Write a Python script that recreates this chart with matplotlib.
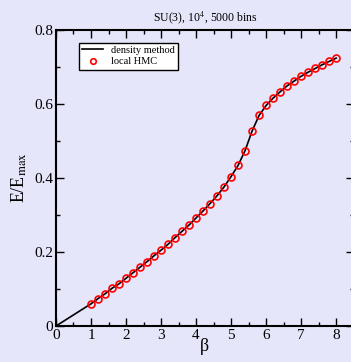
import matplotlib
matplotlib.use("Agg")
import matplotlib.pyplot as plt
from matplotlib.ticker import MultipleLocator

# local HMC measurements of E/E_max
beta_hmc = [1.0, 1.2, 1.4, 1.6, 1.8, 2.0, 2.2, 2.4, 2.6, 2.8,
            3.0, 3.2, 3.4, 3.6, 3.8, 4.0, 4.2, 4.4, 4.6, 4.8,
            5.0, 5.2, 5.4, 5.6, 5.8, 6.0, 6.2, 6.4, 6.6, 6.8,
            7.0, 7.2, 7.4, 7.6, 7.8, 8.0]
e_hmc = [0.060, 0.074, 0.087, 0.102, 0.114, 0.129, 0.144, 0.159, 0.174, 0.190,
         0.205, 0.221, 0.239, 0.256, 0.273, 0.292, 0.311, 0.331, 0.352, 0.376,
         0.404, 0.434, 0.474, 0.527, 0.569, 0.596, 0.616, 0.633, 0.649, 0.662,
         0.675, 0.686, 0.696, 0.706, 0.715, 0.724]

# density method curve
beta_dens = [0.0] + beta_hmc
e_dens = [0.0] + e_hmc

bg = "#e6e6fa"
plt.rcParams["font.family"] = ["Liberation Serif", "DejaVu Serif"]
plt.rcParams["mathtext.fontset"] = "stix"

fig = plt.figure(figsize=(3.51, 3.62), dpi=100, facecolor=bg)
ax = fig.add_axes([0.1595, 0.0994, 0.848, 0.8177], facecolor=bg)

ax.plot(beta_dens, e_dens, color="black", lw=1.2, label="density method", zorder=2)
ax.plot(beta_hmc, e_hmc, ls="none", marker="o", ms=5, mfc="none", mec="red",
        mew=1.2, label="local HMC", zorder=3)

ax.set_xlim(0, 8.5)
ax.set_ylim(0, 0.8)
ax.xaxis.set_major_locator(MultipleLocator(1))
ax.xaxis.set_minor_locator(MultipleLocator(0.5))
ax.yaxis.set_major_locator(MultipleLocator(0.2))
ax.yaxis.set_minor_locator(MultipleLocator(0.1))
ax.tick_params(which="both", direction="in", top=True, right=True, labelsize=11,
               width=1.0, pad=2)
ax.tick_params(which="major", length=6)
ax.tick_params(which="minor", length=3)
ax.set_yticks([0, 0.2, 0.4, 0.6, 0.8])
ax.set_yticklabels(["0", "0.2", "0.4", "0.6", "0.8"])
for s in ax.spines.values():
    s.set_linewidth(1.5)

ax.set_xlabel("β", fontsize=13, labelpad=-3)
ax.set_ylabel(r"E/E$_{\rm max}$", fontsize=13, labelpad=4)
ax.set_title(r"SU(3), 10$^4$, 5000 bins", fontsize=8.5, pad=6)

leg = ax.legend(loc="upper left", bbox_to_anchor=(0.06, 0.975), fontsize=7.5,
                frameon=True, fancybox=False, edgecolor="black", facecolor="white",
                framealpha=1, handlelength=2.0, borderpad=0.3, labelspacing=0.2,
                handletextpad=0.8, markerscale=0.8)
leg.get_frame().set_linewidth(1.0)

fig.savefig("out.png", dpi=100, facecolor=bg)
